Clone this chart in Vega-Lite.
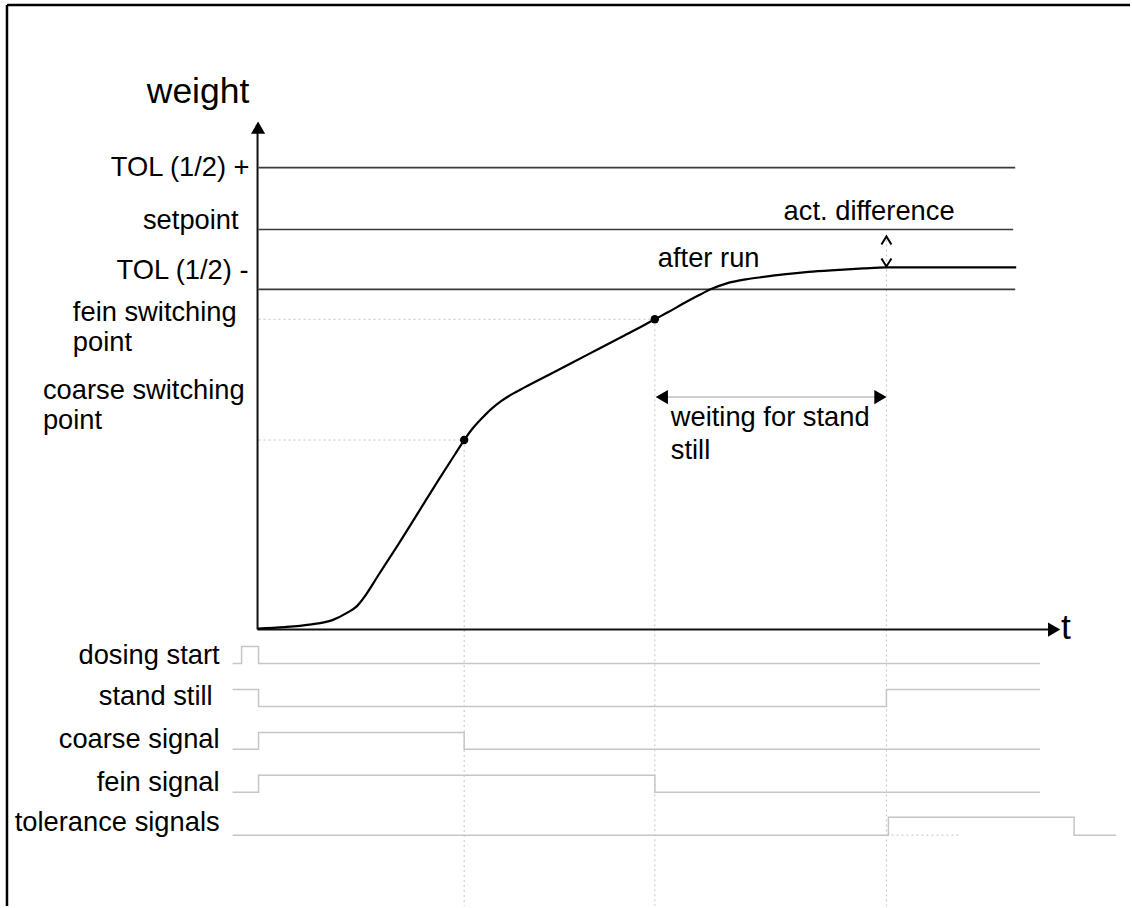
{
  "$schema": "https://vega.github.io/schema/vega-lite/v6.json",
  "width": 1132,
  "height": 908,
  "autosize": {"type": "fit", "contains": "padding"},
  "padding": 0,
  "background": "white",
  "config": {"view": {"stroke": null}},
  "datasets": {
    "border": [
      {"x": 7, "y": 5, "x2": 1132, "y2": 5},
      {"x": 7, "y": 5, "x2": 7, "y2": 908}
    ],
    "axes": [
      {"x": 258, "y": 130, "x2": 258, "y2": 631},
      {"x": 258, "y": 631, "x2": 1052, "y2": 631}
    ],
    "levels": [
      {"x": 259, "y": 168, "x2": 1017, "y2": 168},
      {"x": 259, "y": 230, "x2": 1015, "y2": 230},
      {"x": 259, "y": 290, "x2": 1017, "y2": 290}
    ],
    "guides": [
      {"x": 465, "y": 441, "x2": 465, "y2": 908},
      {"x": 656, "y": 320, "x2": 656, "y2": 908},
      {"x": 888, "y": 240, "x2": 888, "y2": 908},
      {"x": 259, "y": 441, "x2": 465, "y2": 441},
      {"x": 259, "y": 320, "x2": 656, "y2": 320},
      {"x": 888, "y": 837, "x2": 963, "y2": 837}
    ],
    "waitline": [
      {"x": 664, "y": 398, "x2": 882, "y2": 398}
    ],
    "signals": [
      {"sig": "dosing", "i": 0, "x": 233, "y": 665},
      {"sig": "dosing", "i": 1, "x": 242, "y": 665},
      {"sig": "dosing", "i": 2, "x": 242, "y": 648},
      {"sig": "dosing", "i": 3, "x": 259, "y": 648},
      {"sig": "dosing", "i": 4, "x": 259, "y": 665},
      {"sig": "dosing", "i": 5, "x": 1042, "y": 665},
      {"sig": "stand", "i": 0, "x": 233, "y": 691},
      {"sig": "stand", "i": 1, "x": 259, "y": 691},
      {"sig": "stand", "i": 2, "x": 259, "y": 708},
      {"sig": "stand", "i": 3, "x": 888, "y": 708},
      {"sig": "stand", "i": 4, "x": 888, "y": 691},
      {"sig": "stand", "i": 5, "x": 1042, "y": 691},
      {"sig": "coarse", "i": 0, "x": 233, "y": 751},
      {"sig": "coarse", "i": 1, "x": 259, "y": 751},
      {"sig": "coarse", "i": 2, "x": 259, "y": 734},
      {"sig": "coarse", "i": 3, "x": 465, "y": 734},
      {"sig": "coarse", "i": 4, "x": 465, "y": 751},
      {"sig": "coarse", "i": 5, "x": 1042, "y": 751},
      {"sig": "fein", "i": 0, "x": 233, "y": 794},
      {"sig": "fein", "i": 1, "x": 259, "y": 794},
      {"sig": "fein", "i": 2, "x": 259, "y": 777},
      {"sig": "fein", "i": 3, "x": 656, "y": 777},
      {"sig": "fein", "i": 4, "x": 656, "y": 794},
      {"sig": "fein", "i": 5, "x": 1042, "y": 794},
      {"sig": "tol", "i": 0, "x": 233, "y": 837},
      {"sig": "tol", "i": 1, "x": 890, "y": 837},
      {"sig": "tol", "i": 2, "x": 890, "y": 819},
      {"sig": "tol", "i": 3, "x": 1076, "y": 819},
      {"sig": "tol", "i": 4, "x": 1076, "y": 837},
      {"sig": "tol", "i": 5, "x": 1118, "y": 837}
    ],
    "curve": [
      {"x": 258, "y": 630},
      {"x": 285, "y": 628.5},
      {"x": 310, "y": 626},
      {"x": 333, "y": 621.5},
      {"x": 348, "y": 614},
      {"x": 357, "y": 608},
      {"x": 363, "y": 601},
      {"x": 380, "y": 575},
      {"x": 400, "y": 544},
      {"x": 420, "y": 512},
      {"x": 440, "y": 480},
      {"x": 456, "y": 455},
      {"x": 465, "y": 441},
      {"x": 473, "y": 430},
      {"x": 482, "y": 420},
      {"x": 492, "y": 410},
      {"x": 502, "y": 402},
      {"x": 513, "y": 395},
      {"x": 525, "y": 388.5},
      {"x": 550, "y": 375.5},
      {"x": 575, "y": 362.5},
      {"x": 600, "y": 349.5},
      {"x": 625, "y": 336.5},
      {"x": 645, "y": 326},
      {"x": 656, "y": 320},
      {"x": 670, "y": 312.5},
      {"x": 685, "y": 304},
      {"x": 700, "y": 296},
      {"x": 713, "y": 289.5},
      {"x": 728, "y": 284},
      {"x": 747, "y": 280},
      {"x": 765, "y": 277.5},
      {"x": 785, "y": 275},
      {"x": 810, "y": 272.5},
      {"x": 840, "y": 270.5},
      {"x": 865, "y": 269},
      {"x": 888, "y": 268},
      {"x": 1018, "y": 268}
    ],
    "switchpoints": [
      {"x": 465, "y": 441},
      {"x": 656, "y": 320}
    ],
    "heads": [
      {"x": 258.5, "y": 128, "dir": "up"},
      {"x": 1056, "y": 631, "dir": "right"},
      {"x": 663, "y": 398, "dir": "left"},
      {"x": 882, "y": 398, "dir": "right"}
    ],
    "chevrons": [
      {"g": "up", "i": 0, "x": 883, "y": 245},
      {"g": "up", "i": 1, "x": 888, "y": 237},
      {"g": "up", "i": 2, "x": 893, "y": 245},
      {"g": "down", "i": 0, "x": 883, "y": 259},
      {"g": "down", "i": 1, "x": 888, "y": 267},
      {"g": "down", "i": 2, "x": 893, "y": 259}
    ],
    "rightlabels": [
      {"x": 250, "y": 176, "label": "TOL (1/2) +"},
      {"x": 239, "y": 230, "label": "setpoint"},
      {"x": 249, "y": 280, "label": "TOL (1/2) -"},
      {"x": 220, "y": 665, "label": "dosing start"},
      {"x": 213, "y": 707, "label": "stand still"},
      {"x": 220, "y": 750, "label": "coarse signal"},
      {"x": 220, "y": 793, "label": "fein signal"},
      {"x": 220, "y": 833, "label": "tolerance signals"}
    ],
    "leftlabels": [
      {"x": 73, "y": 322, "label": "fein switching\npoint"},
      {"x": 43, "y": 400, "label": "coarse switching\npoint"},
      {"x": 785, "y": 220, "label": "act. difference"},
      {"x": 659, "y": 268, "label": "after run"}
    ],
    "waitlabel": [
      {"x": 672, "y": 427, "label": "weiting for stand\nstill"}
    ],
    "biglabels": [
      {"x": 147, "y": 103, "label": "weight"},
      {"x": 1063, "y": 640, "label": "t"}
    ]
  },
  "encoding": {
    "x": {"field": "x", "type": "quantitative", "scale": {"domain": [0, 1132], "nice": false, "zero": false}, "axis": null},
    "y": {"field": "y", "type": "quantitative", "scale": {"domain": [0, 908], "reverse": true, "nice": false, "zero": false}, "axis": null}
  },
  "layer": [
    {
      "data": {"name": "guides"},
      "mark": {"type": "rule", "color": "#c4c4c4", "strokeWidth": 1, "strokeDash": [2, 3]},
      "encoding": {"x2": {"field": "x2"}, "y2": {"field": "y2"}}
    },
    {
      "data": {"name": "waitline"},
      "mark": {"type": "rule", "color": "#d0d0d0", "strokeWidth": 2},
      "encoding": {"x2": {"field": "x2"}, "y2": {"field": "y2"}}
    },
    {
      "data": {"name": "signals"},
      "mark": {"type": "line", "color": "#c6c6c6", "strokeWidth": 1.5, "strokeJoin": "miter"},
      "encoding": {"detail": {"field": "sig"}, "order": {"field": "i", "type": "quantitative"}}
    },
    {
      "data": {"name": "levels"},
      "mark": {"type": "rule", "color": "#3a3a3a", "strokeWidth": 1.6},
      "encoding": {"x2": {"field": "x2"}, "y2": {"field": "y2"}}
    },
    {
      "data": {"name": "axes"},
      "mark": {"type": "rule", "color": "#111111", "strokeWidth": 2},
      "encoding": {"x2": {"field": "x2"}, "y2": {"field": "y2"}}
    },
    {
      "data": {"name": "border"},
      "mark": {"type": "rule", "color": "#000000", "strokeWidth": 2.5},
      "encoding": {"x2": {"field": "x2"}, "y2": {"field": "y2"}}
    },
    {
      "data": {"name": "curve"},
      "mark": {"type": "line", "color": "#000000", "strokeWidth": 2.2, "interpolate": "monotone"},
      "encoding": {}
    },
    {
      "data": {"name": "chevrons"},
      "mark": {"type": "line", "color": "#000000", "strokeWidth": 2},
      "encoding": {"detail": {"field": "g"}, "order": {"field": "i", "type": "quantitative"}}
    },
    {
      "data": {"name": "switchpoints"},
      "mark": {"type": "point", "filled": true, "color": "#000000", "size": 70, "opacity": 1},
      "encoding": {}
    },
    {
      "data": {"name": "heads"},
      "mark": {"type": "point", "filled": true, "color": "#000000", "size": 200, "opacity": 1},
      "encoding": {
        "shape": {"field": "dir", "type": "nominal", "scale": {"domain": ["up", "right", "left"], "range": ["triangle-up", "triangle-right", "triangle-left"]}, "legend": null}
      }
    },
    {
      "data": {"name": "rightlabels"},
      "mark": {"type": "text", "align": "right", "baseline": "alphabetic", "font": "Liberation Sans", "fontSize": 27.3, "color": "#000000"},
      "encoding": {"text": {"field": "label"}}
    },
    {
      "data": {"name": "leftlabels"},
      "mark": {"type": "text", "align": "left", "baseline": "alphabetic", "font": "Liberation Sans", "fontSize": 27.3, "color": "#000000", "lineBreak": "\n", "lineHeight": 30},
      "encoding": {"text": {"field": "label"}}
    },
    {
      "data": {"name": "waitlabel"},
      "mark": {"type": "text", "align": "left", "baseline": "alphabetic", "font": "Liberation Sans", "fontSize": 27.3, "color": "#000000", "lineBreak": "\n", "lineHeight": 33},
      "encoding": {"text": {"field": "label"}}
    },
    {
      "data": {"name": "biglabels"},
      "mark": {"type": "text", "align": "left", "baseline": "alphabetic", "font": "Liberation Sans", "fontSize": 35.5, "color": "#000000"},
      "encoding": {"text": {"field": "label"}}
    }
  ]
}
